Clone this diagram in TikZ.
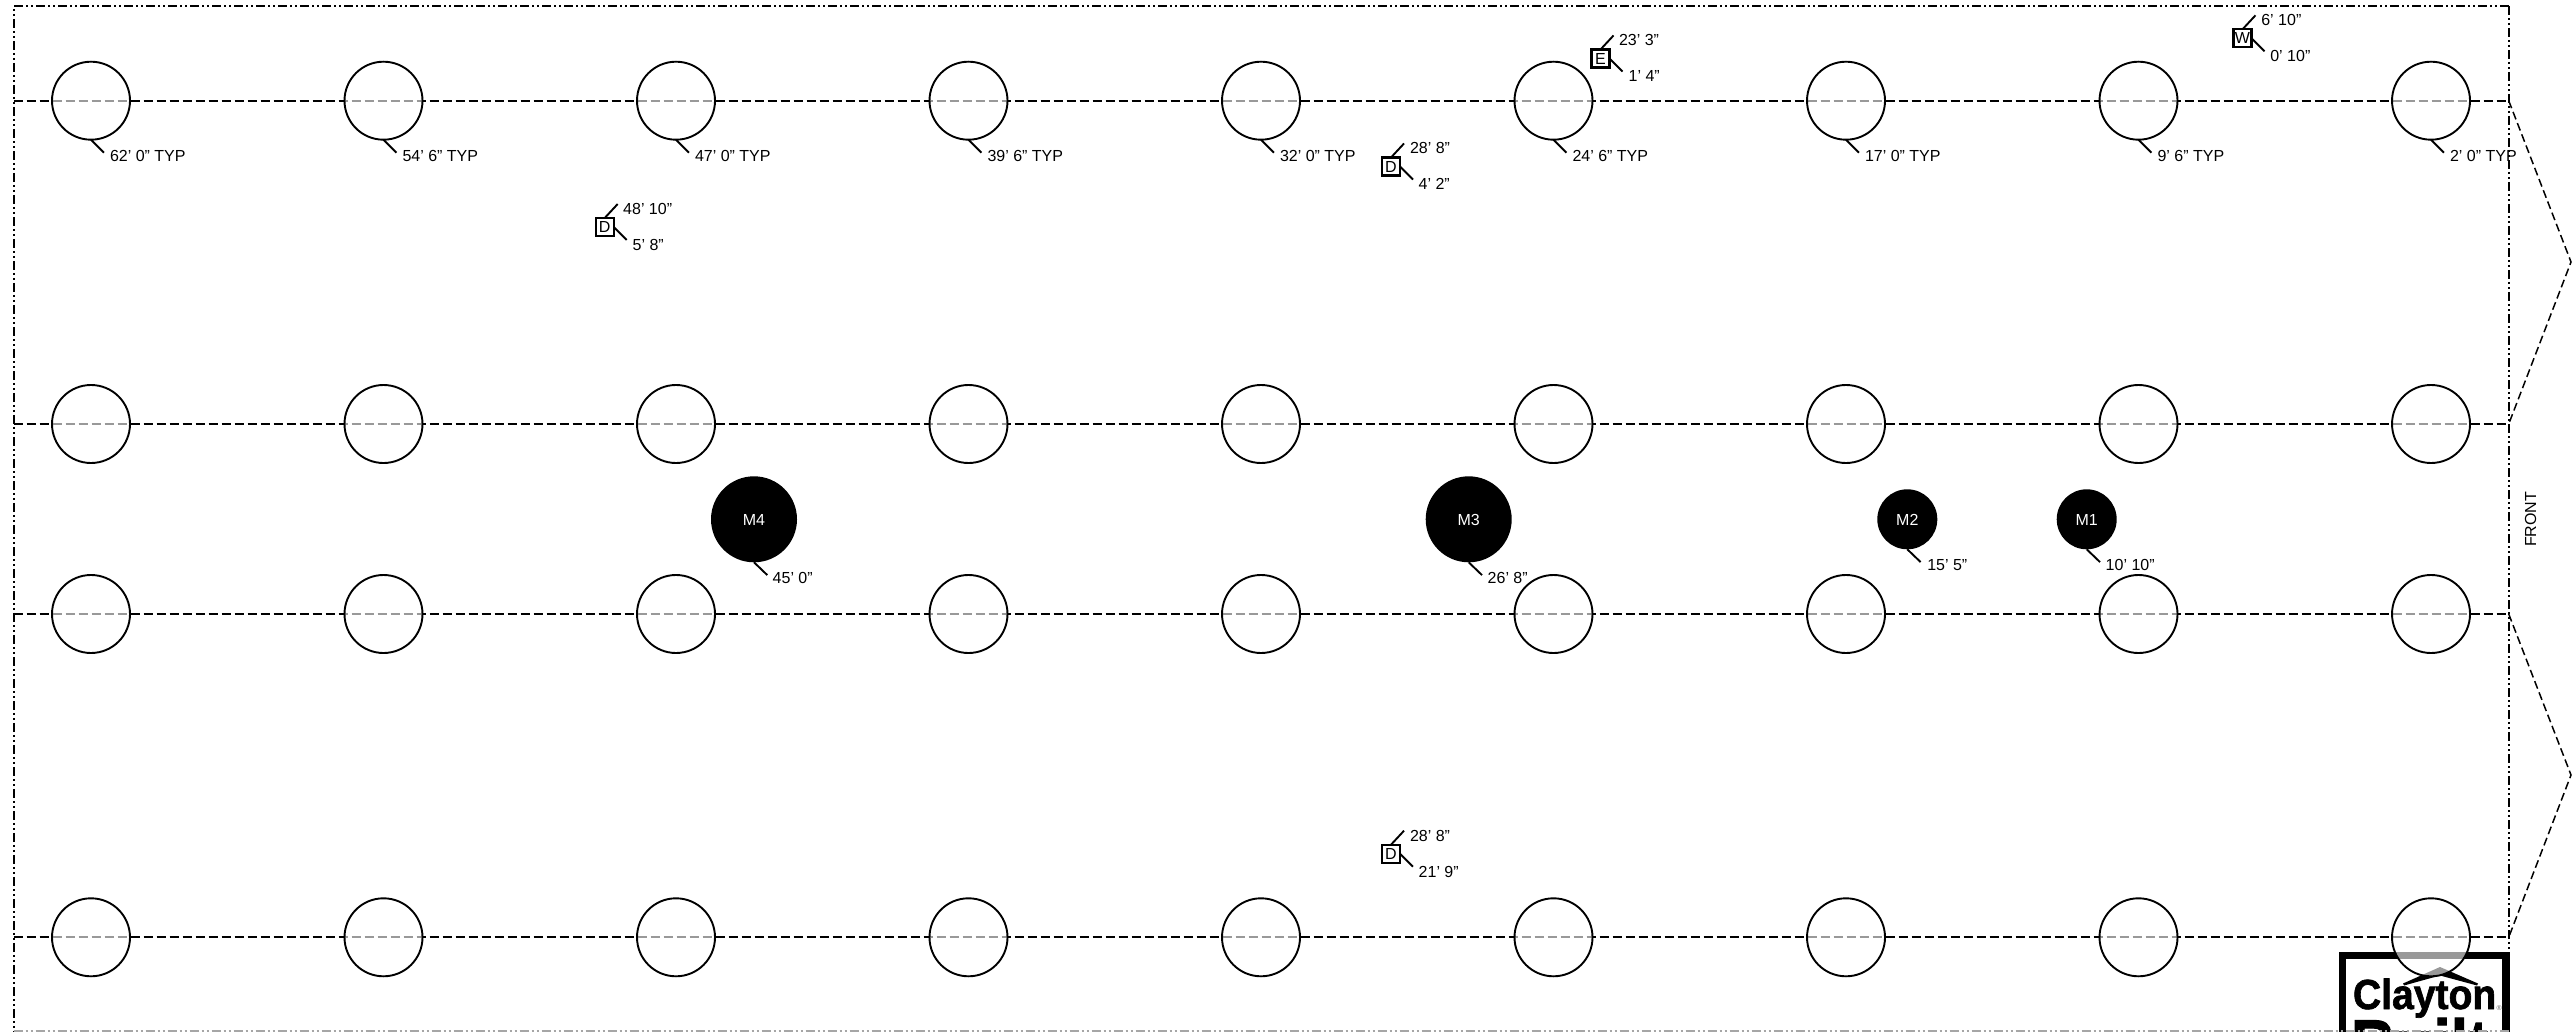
\documentclass[tikz,border=0pt]{standalone}
\usepackage{fontspec}
\setmainfont{Liberation Sans}
\newfontfamily\logofont{Liberation Sans}[BoldFeatures={FakeBold=1.6}]
\usetikzlibrary{calc}
\tikzset{
  wall/.style={line width=2pt,black,dash pattern=on 9pt off 3pt on 2pt off 3pt on 2pt off 3pt},
  pierline/.style={line width=2pt,black,dash pattern=on 9pt off 4pt},
  hitch/.style={line width=1.5pt,black,dash pattern=on 8pt off 4pt},
  pier/.style={circle,draw=black,line width=1.9pt,fill=white,fill opacity=.6,draw opacity=1,minimum size=78pt,inner sep=0pt,outer sep=0pt},
  marriage/.style={circle,fill=black,draw=none,text=white,inner sep=0pt,outer sep=0pt,font=\fontsize{16}{18}\selectfont,text height=11.5pt,text depth=0pt},
  opening/.style={rectangle,draw=black,line width=2.2pt,fill=white,minimum size=18pt,inner sep=0pt,outer sep=0pt,font=\fontsize{16}{18}\selectfont},
  dim/.style={anchor=west,inner sep=0pt,outer sep=0pt,yshift=-0.7pt,font=\fontsize{16}{18}\selectfont,text height=11.5pt,text depth=0pt},
  leader/.style={line width=1.9pt,black},
}
\newcommand{\openingmark}[8]{%
  % name, letter, x, y, top text, bottom text
  \node[opening] (#1) at (#3,#4) {#2};
  \coordinate (#1a) at ($(#1)+(13,-23)$);
  \coordinate (#1b) at ($(#1)+(22,13)$);
  \draw[leader] (#1.north) -- (#1a);
  \draw[leader] (#1.east) -- (#1b);
  \node[dim] (#1t) at ($(#1)+(#7,-19)$) {#5};
  \node[dim] (#1u) at ($(#1)+(#8,17)$) {#6};
}
\begin{document}
\begin{tikzpicture}[x=1pt,y=-1pt]
\useasboundingbox (0,0) rectangle (2572,1032);
\fill[white] (0,0) rectangle (2572,1032);
% outline corners
\coordinate (tl) at (13.5,6);
\coordinate (tr) at (2508.7,6);
\coordinate (bl) at (13.5,1031);
\coordinate (br) at (2508.7,1031);
\draw[wall] (tr) -- (tl) -- (bl);
\draw[wall] (tr) -- (br);
% pier lines
\foreach \r/\y in {1/100.7,2/424,3/614,4/937.3}{
  \coordinate (la\r) at (13.5,\y);
  \coordinate (lb\r) at (2508.7,\y);
  \draw[pierline] (la\r) -- (lb\r);
}
% hitches
\coordinate (h1) at (2571,262);
\coordinate (h2) at (2571,775);
\draw[hitch] (lb1) -- (h1) -- (lb2);
\draw[hitch] (lb3) -- (h2) -- (lb4);
% logo
\begin{scope}
\clip (0,0) rectangle (2572,1032);
\fill[white] (2338.7,952) rectangle (2509.7,1040);
\draw[line width=7.5pt,black] (2506,1060) -- (2506,955.7) -- (2342.5,955.7) -- (2342.5,1060);
\fill[black] (2403,983.5) -- (2440,967) -- (2478,983.5) -- (2477,985.5) -- (2440,975.5) -- (2404,985.5) -- cycle;
\node[anchor=base west,inner sep=0pt,outer sep=0pt,font=\logofont\bfseries\fontsize{42}{42}\selectfont] (clayton) at (2353,1009) {\scalebox{.93}[1]{Clayton}};
\node[anchor=base west,inner sep=0pt,outer sep=0pt,font=\fontsize{7}{7}\selectfont,text=black!60] (reg) at (2496.5,1010) {®};
\node[anchor=base west,inner sep=0pt,outer sep=0pt,font=\logofont\bfseries\fontsize{72}{72}\selectfont] (built) at (2351,1070) {\scalebox{.86}[1]{Built}};
\end{scope}
\draw[line width=1.5pt,black!35,dash pattern=on 9pt off 3pt on 2pt off 3pt on 2pt off 3pt] (bl) -- (br);
% piers
\foreach \r/\y in {1/100.7,2/424,3/614,4/937.3}{
  \foreach \i in {0,...,8}{
    \node[pier] (c\r\i) at ({91+292.5*\i},\y) {};
  }
}
% typical dimensions
\foreach \i/\t in {0/{62' 0" TYP},1/{54' 6" TYP},2/{47' 0" TYP},3/{39' 6" TYP},4/{32' 0" TYP},5/{24' 6" TYP},6/{17' 0" TYP},7/{9' 6" TYP},8/{2' 0" TYP}}{
  \coordinate (e\i) at ($(c1\i.south)+(13,13)$);
  \draw[leader] (c1\i.south) -- (e\i);
  \node[dim] (t\i) at ($(c1\i.south)+(19,15.5)$) {\t};
}
% marriage line piers
\node[marriage,minimum size=86pt] (m4) at (754,519.3) {M4};
\node[marriage,minimum size=86pt] (m3) at (1468.7,519.3) {M3};
\node[marriage,minimum size=60pt] (m2) at (1907.3,519.3) {M2};
\node[marriage,minimum size=60pt] (m1) at (2086.7,519.3) {M1};
\foreach \n/\t/\dx/\dy in {m4/{45' 0"}/18.7/14.5,m3/{26' 8"}/19/15,m2/{15' 5"}/20/15,m1/{10' 10"}/19/15}{
  \coordinate (\n e) at ($(\n.south)+(13.3,12.8)$);
  \draw[leader] (\n.south) -- (\n e);
  \node[dim] (\n t) at ($(\n.south)+(\dx,\dy)$) {\t};
}
% openings
\openingmark{da}{D}{604.7}{227}{48' 10"}{5' 8"}{18.5}{28}
\openingmark{db}{D}{1391}{166.5}{28' 8"}{4' 2"}{19}{27.7}
\openingmark{dc}{D}{1391}{853.7}{28' 8"}{21' 9"}{19}{27.7}
\openingmark{ee}{E}{1600.5}{58.5}{23' 3"}{1' 4"}{18.5}{28.2}
\openingmark{ww}{W}{2242.5}{38.3}{6' 10"}{0' 10"}{18.8}{27.8}
% front
\node[inner sep=0pt,rotate=90,font=\fontsize{16}{18}\selectfont] (front) at (2530.7,519.3) {FRONT};
\end{tikzpicture}
\end{document}
